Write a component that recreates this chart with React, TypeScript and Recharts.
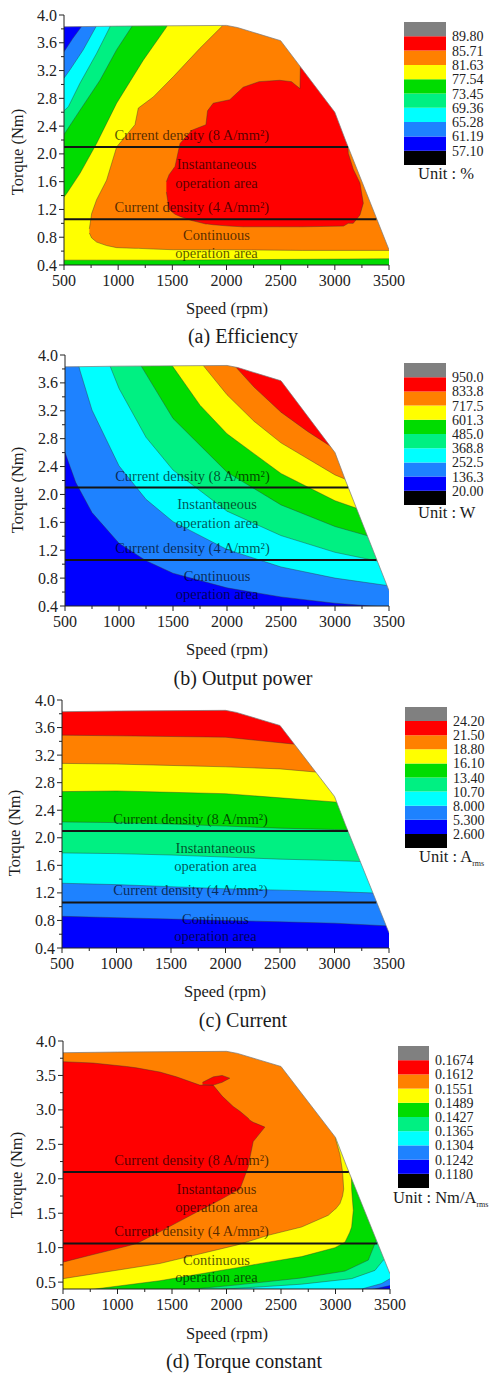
import React from "react";
import {
  Area,
  Bar,
  BarChart,
  ComposedChart,
  ReferenceDot,
  ReferenceLine,
  XAxis,
  YAxis,
} from "recharts";

const FONT = '"Liberation Serif", "Times New Roman", serif';

// colour scale, low -> high (same in all four maps)
const BLACK = "#000000";
const BLUE = "#0000ff";
const DODGER = "#1e82ff";
const CYAN = "#00ffff";
const SPRING = "#00f082";
const GREEN = "#00dc00";
const YELLOW = "#ffff00";
const ORANGE = "#ff8000";
const RED = "#ff0000";
const GRAY = "#808080";
const scaleColors = [BLACK, BLUE, DODGER, CYAN, SPRING, GREEN, YELLOW, ORANGE, RED, GRAY];

// axis ticks
const xTicks = [500, 750, 1000, 1250, 1500, 1750, 2000, 2250, 2500, 2750, 3000, 3250, 3500];
const xMajor = [500, 1000, 1500, 2000, 2500, 3000, 3500];
const yTicks = [0.4, 0.6, 0.8, 1.0, 1.2, 1.4, 1.6, 1.8, 2.0, 2.2, 2.4, 2.6, 2.8, 3.0, 3.2, 3.4, 3.6, 3.8, 4.0];
const yMajor = [0.4, 0.8, 1.2, 1.6, 2.0, 2.4, 2.8, 3.2, 3.6, 4.0];
const yTicksD = [0.5, 0.75, 1.0, 1.25, 1.5, 1.75, 2.0, 2.25, 2.5, 2.75, 3.0, 3.25, 3.5, 3.75, 4.0];
const yMajorD = [0.5, 1.0, 1.5, 2.0, 2.5, 3.0, 3.5, 4.0];

// legend labels
const effLegend = ["57.10", "61.19", "65.28", "69.36", "73.45", "77.54", "81.63", "85.71", "89.80"];
const powLegend = ["20.00", "136.3", "252.5", "368.8", "485.0", "601.3", "717.5", "833.8", "950.0"];
const curLegend = ["2.600", "5.300", "8.000", "10.70", "13.40", "16.10", "18.80", "21.50", "24.20"];
const tqLegend = ["0.1180", "0.1242", "0.1304", "0.1365", "0.1427", "0.1489", "0.1551", "0.1612", "0.1674"];

// operating envelope (upper torque limit vs speed)
const envSpeed = [500, 1000, 2000, 2100, 2500, 3000, 3100, 3500];
const envTorque = [3.83, 3.84, 3.85, 3.82, 3.63, 2.6, 2.19, 0.62];

// current density limits
const limitTorque = [2.1, 1.06];
const limitEndSpeed = [3122, 3383];

// notes inside the maps
const noteText = [
  "Current density (8 A/mm²)",
  "Instantaneous",
  "operation area",
  "Current density (4 A/mm²)",
  "Continuous",
  "operation area",
];
const noteSpeed = [1680, 1908, 1908, 1680, 1908, 1908];
const noteTorque = [2.27, 1.86, 1.59, 1.24, 0.83, 0.57];

const fullSpeed = [500, 3500];
const fullLow = [0.3, 0.3];

// (a) efficiency: regions above each level
const effDodgerSpeed = [500, 580, 660, 700, 3500];
const effDodgerTop = [3.47, 3.66, 3.83, 4.2, 4.2];
const effCyanSpeed = [500, 555, 678, 795, 840, 3500];
const effCyanTop = [3.09, 3.21, 3.5, 3.83, 4.2, 4.2];
const effSpringSpeed = [500, 540, 648, 802, 925, 970, 3500];
const effSpringTop = [2.62, 2.68, 3.02, 3.45, 3.83, 4.2, 4.2];
const effGreenSpeed = [500, 648, 832, 986, 1125, 1170, 3500];
const effGreenTop = [2.28, 2.63, 3.06, 3.5, 3.83, 4.2, 4.2];
const effYellowSpeed = [500, 525, 648, 801, 986, 1232, 1448, 1500, 3500];
const effYellowLow = [0.47, 0.47, 0.47, 0.47, 0.47, 0.47, 0.47, 0.47, 0.49];
const effYellowTop = [1.38, 1.43, 1.72, 2.15, 2.73, 3.35, 3.83, 4.2, 4.2];
const effOrangeSpeed = [734, 755, 801, 893, 986, 1155, 1186, 1324, 1508, 1754, 1960, 2000, 2700, 3500];
const effOrangeLow = [0.86, 0.79, 0.73, 0.68, 0.65, 0.64, 0.64, 0.63, 0.62, 0.62, 0.62, 0.62, 0.61, 0.61];
const effOrangeTop = [0.92, 1.14, 1.34, 1.62, 2.1, 2.42, 2.66, 2.82, 3.11, 3.52, 3.84, 4.2, 4.2, 4.2];
const effRedSpeed = [1445, 1470, 1525, 1571, 1680, 1810, 1825, 1877, 2030, 2154, 2300, 2490, 2600, 2678, 2694, 3080, 3124, 3170, 3232, 3263];
const effRedLow = [1.45, 1.2, 1.13, 1.1, 1.04, 0.99, 0.99, 0.98, 0.96, 0.95, 0.95, 0.95, 0.95, 0.95, 0.95, 0.96, 1.0, 1.0, 1.12, 1.29];
const effRedTop = [1.6, 1.7, 1.82, 2.15, 2.34, 2.42, 2.62, 2.73, 2.78, 2.96, 3.04, 3.06, 3.04, 2.94, 4.2, 4.2, 2.01, 1.78, 1.58, 1.29];

// (b) output power: lower edge of each level
const powDodgerSpeed = [500, 600, 750, 1000, 1250, 1500, 2000, 2500, 3000, 3500];
const powDodgerLow = [2.6, 2.17, 1.74, 1.3, 1.05, 0.87, 0.66, 0.53, 0.44, 0.38];
const powCyanSpeed = [600, 640, 750, 1000, 1250, 1500, 2000, 2500, 3000, 3500];
const powCyanLow = [4.0, 3.77, 3.21, 2.41, 1.93, 1.61, 1.21, 0.96, 0.8, 0.69];
const powSpringSpeed = [880, 920, 1000, 1250, 1500, 2000, 2500, 3000, 3500];
const powSpringLow = [4.0, 3.83, 3.52, 2.82, 2.35, 1.76, 1.41, 1.17, 1.01];
const powGreenSpeed = [1150, 1210, 1500, 2000, 2500, 3000, 3500];
const powGreenLow = [4.0, 3.83, 3.09, 2.32, 1.85, 1.54, 1.32];
const powYellowSpeed = [1430, 1500, 1750, 2000, 2500, 3000, 3500];
const powYellowLow = [4.0, 3.83, 3.28, 2.87, 2.3, 1.91, 1.64];
const powOrangeSpeed = [1710, 1790, 2000, 2250, 2500, 3000, 3500];
const powOrangeLow = [4.0, 3.83, 3.43, 3.05, 2.74, 2.28, 1.96];
const powRedSpeed = [2000, 2080, 2250, 2500, 2750, 3000, 3500];
const powRedLow = [4.0, 3.83, 3.54, 3.18, 2.9, 2.65, 2.28];

// (c) current: lower edge of each level
const curSpeed = [500, 1000, 1500, 2000, 2500, 3000, 3500];
const curDodgerLow = [0.86, 0.84, 0.82, 0.8, 0.78, 0.76, 0.72];
const curCyanLow = [1.34, 1.32, 1.29, 1.26, 1.24, 1.22, 1.19];
const curSpringLow = [1.78, 1.77, 1.75, 1.72, 1.69, 1.67, 1.64];
const curGreenLow = [2.23, 2.22, 2.2, 2.17, 2.14, 2.12, 2.1];
const curYellowLow = [2.67, 2.68, 2.66, 2.64, 2.58, 2.52, 2.45];
const curOrangeLow = [3.08, 3.07, 3.05, 3.03, 3.0, 2.93, 2.9];
const curRedLow = [3.49, 3.48, 3.47, 3.46, 3.38, 3.3, 3.2];

// (d) torque constant
const tqDodgerSpeed = [500, 3300, 3500];
const tqDodgerLow = [0.3, 0.38, 0.45];
const tqCyanSpeed = [500, 2842, 3240, 3423, 3500];
const tqCyanLow = [0.3, 0.38, 0.4, 0.48, 0.55];
const tqSpringSpeed = [500, 1900, 2400, 2689, 3148, 3362, 3439, 3500];
const tqSpringLow = [0.3, 0.39, 0.44, 0.47, 0.55, 0.67, 0.82, 0.9];
const tqGreenSpeed = [500, 1633, 2100, 2689, 3087, 3301, 3362, 3400, 3500];
const tqGreenLow = [0.3, 0.39, 0.46, 0.56, 0.66, 0.82, 1.06, 1.2, 1.4];
const tqYellowSpeed = [500, 745, 1388, 2100, 2383, 2689, 2995, 3087, 3130, 3148, 3163];
const tqYellowLow = [0.3, 0.39, 0.52, 0.71, 0.79, 0.87, 1.0, 1.08, 1.22, 1.3, 1.54];
const tqYellowTop = [4.2, 4.2, 4.2, 4.2, 4.2, 4.2, 4.2, 4.2, 4.2, 1.85, 1.54];
const tqOrangeSpeed = [500, 1388, 2100, 2383, 2689, 2934, 2990, 3000, 3041, 3065, 3075];
const tqOrangeLow = [0.55, 0.77, 1.04, 1.18, 1.3, 1.47, 1.55, 1.56, 1.64, 1.75, 1.85];
const tqOrangeTop = [4.2, 4.2, 4.2, 4.2, 4.2, 4.2, 4.2, 2.58, 2.35, 2.1, 1.85];
const tqRedSpeed = [500, 776, 1082, 1174, 1388, 1541, 1755, 1877, 1960, 2061, 2123, 2199, 2214, 2245, 2352];
const tqRedLow = [0.79, 0.9, 1.02, 1.06, 1.23, 1.36, 1.54, 1.64, 1.71, 1.8, 1.85, 2.17, 2.3, 2.54, 2.75];
const tqRedTop = [3.7, 3.68, 3.63, 3.61, 3.55, 3.48, 3.36, 3.36, 3.2, 3.05, 2.98, 2.88, 2.85, 2.82, 2.75];
const tqTongueSpeed = [1780, 1880, 1960, 2030];
const tqTongueLow = [3.37, 3.36, 3.4, 3.46];
const tqTongueTop = [3.4, 3.48, 3.5, 3.46];

type Pt = { s: number; r: [number, number] };
const OVER = 4.2; // above the plot, clipped away

const band = (s: number[], lo: number[], hi: number[]): Pt[] =>
  s.map((v, i) => ({ s: v, r: [lo[i], hi[i]] }));
const above = (s: number[], lo: number[]) => band(s, lo, s.map(() => OVER));
const below = (s: number[], hi: number[]) => band(s, s.map(() => 0.3), hi);

const maskData = band(envSpeed, envTorque, envSpeed.map(() => 4.3));

type Layer = { color: string; data: Pt[]; edge: boolean };

const effLayers: Layer[] = [
  { color: BLUE, data: above(fullSpeed, fullLow), edge: false },
  { color: DODGER, data: below(effDodgerSpeed, effDodgerTop), edge: true },
  { color: CYAN, data: below(effCyanSpeed, effCyanTop), edge: true },
  { color: SPRING, data: below(effSpringSpeed, effSpringTop), edge: true },
  { color: GREEN, data: below(effGreenSpeed, effGreenTop), edge: true },
  { color: YELLOW, data: band(effYellowSpeed, effYellowLow, effYellowTop), edge: true },
  { color: ORANGE, data: band(effOrangeSpeed, effOrangeLow, effOrangeTop), edge: true },
  { color: RED, data: band(effRedSpeed, effRedLow, effRedTop), edge: true },
];

const powLayers: Layer[] = [
  { color: BLUE, data: above(fullSpeed, fullLow), edge: false },
  { color: DODGER, data: above(powDodgerSpeed, powDodgerLow), edge: true },
  { color: CYAN, data: above(powCyanSpeed, powCyanLow), edge: true },
  { color: SPRING, data: above(powSpringSpeed, powSpringLow), edge: true },
  { color: GREEN, data: above(powGreenSpeed, powGreenLow), edge: true },
  { color: YELLOW, data: above(powYellowSpeed, powYellowLow), edge: true },
  { color: ORANGE, data: above(powOrangeSpeed, powOrangeLow), edge: true },
  { color: RED, data: above(powRedSpeed, powRedLow), edge: true },
];

const curLayers: Layer[] = [
  { color: BLUE, data: above(fullSpeed, fullLow), edge: false },
  { color: DODGER, data: above(curSpeed, curDodgerLow), edge: true },
  { color: CYAN, data: above(curSpeed, curCyanLow), edge: true },
  { color: SPRING, data: above(curSpeed, curSpringLow), edge: true },
  { color: GREEN, data: above(curSpeed, curGreenLow), edge: true },
  { color: YELLOW, data: above(curSpeed, curYellowLow), edge: true },
  { color: ORANGE, data: above(curSpeed, curOrangeLow), edge: true },
  { color: RED, data: above(curSpeed, curRedLow), edge: true },
];

const tqLayers: Layer[] = [
  { color: BLUE, data: above(fullSpeed, fullLow), edge: false },
  { color: DODGER, data: above(tqDodgerSpeed, tqDodgerLow), edge: true },
  { color: CYAN, data: above(tqCyanSpeed, tqCyanLow), edge: true },
  { color: SPRING, data: above(tqSpringSpeed, tqSpringLow), edge: true },
  { color: GREEN, data: above(tqGreenSpeed, tqGreenLow), edge: true },
  { color: YELLOW, data: band(tqYellowSpeed, tqYellowLow, tqYellowTop), edge: true },
  { color: ORANGE, data: band(tqOrangeSpeed, tqOrangeLow, tqOrangeTop), edge: true },
  { color: RED, data: band(tqRedSpeed, tqRedLow, tqRedTop), edge: true },
  { color: RED, data: band(tqTongueSpeed, tqTongueLow, tqTongueTop), edge: true },
];

const isIn = (list: number[], v: number) => list.some((m) => Math.abs(m - v) < 1e-6);

function XTick(props: any) {
  const { x, y, payload } = props;
  const v = payload.value as number;
  const major = isIn(xMajor, v);
  return (
    <g>
      <line x1={x} y1={y} x2={x} y2={y + (major ? 5 : 3)} stroke="#222" />
      {major && (
        <text x={x} y={y + 21} textAnchor="middle" fontSize={16} fontFamily={FONT} fill="#222">
          {v}
        </text>
      )}
    </g>
  );
}

function makeYTick(majors: number[]) {
  return (props: any) => {
    const { x, y, payload } = props;
    const v = payload.value as number;
    const major = isIn(majors, v);
    return (
      <g>
        <line x1={x} y1={y} x2={x - (major ? 5 : 3)} y2={y} stroke="#222" />
        {major && (
          <text x={x - 7} y={y} dy={5.5} textAnchor="end" fontSize={16} fontFamily={FONT} fill="#222">
            {v.toFixed(1)}
          </text>
        )}
      </g>
    );
  };
}

type PanelProps = {
  plotTop: number;
  plotBottom: number;
  plotLeft: number;
  plotRight: number;
  layers: Layer[];
  ticks: number[];
  majors: number[];
};

function ContourPanel({ plotTop, plotBottom, plotLeft, plotRight, layers, ticks, majors }: PanelProps) {
  const width = 425;
  const height = plotBottom - plotTop + 40;
  return (
    <div style={{ position: "absolute", left: 0, top: plotTop - 10 }}>
      <ComposedChart
        width={width}
        height={height}
        margin={{ top: 10, right: width - plotRight, bottom: 0, left: 0 }}
      >
        {layers.map((l, i) => (
          <Area
            key={i}
            data={l.data}
            dataKey="r"
            type="linear"
            fill={l.color}
            fillOpacity={1}
            stroke={l.edge ? "#333" : "none"}
            strokeWidth={0.5}
            strokeOpacity={0.8}
            dot={false}
            activeDot={false}
            isAnimationActive={false}
          />
        ))}
        <Area
          data={maskData}
          dataKey="r"
          type="linear"
          fill="#ffffff"
          fillOpacity={1}
          stroke="#777"
          strokeWidth={0.7}
          dot={false}
          activeDot={false}
          isAnimationActive={false}
        />
        {limitTorque.map((t, i) => (
          <ReferenceLine
            key={t}
            segment={[
              { x: 500, y: t },
              { x: limitEndSpeed[i], y: t },
            ]}
            stroke="#151515"
            strokeWidth={2}
          />
        ))}
        {noteText.map((txt, i) => (
          <ReferenceDot
            key={i}
            x={noteSpeed[i]}
            y={noteTorque[i]}
            r={0}
            fill="none"
            stroke="none"
            label={{
              value: txt,
              position: "center",
              fill: "#000",
              fillOpacity: 0.68,
              fontSize: 14.5,
              fontFamily: FONT,
            }}
          />
        ))}
        <XAxis
          type="number"
          dataKey="s"
          domain={[500, 3500]}
          allowDataOverflow
          ticks={xTicks}
          interval={0}
          tick={XTick}
          tickLine={false}
          tickSize={0}
          tickMargin={0}
          axisLine={{ stroke: "#222" }}
          height={30}
        />
        <YAxis
          type="number"
          domain={[0.4, 4.0]}
          allowDataOverflow
          ticks={ticks}
          interval={0}
          tick={makeYTick(majors)}
          tickLine={false}
          tickSize={0}
          tickMargin={0}
          axisLine={{ stroke: "#222" }}
          width={plotLeft}
        />
      </ComposedChart>
    </div>
  );
}

const legendTicks = [1, 2, 3, 4, 5, 6, 7, 8, 9];

function ColorBar({ left, top, barWidth, height, labels }: { left: number; top: number; barWidth: number; height: number; labels: string[] }) {
  const width = 492 - left;
  const row: Record<string, number | string> = { n: "scale" };
  scaleColors.forEach((_, i) => {
    row[`k${i}`] = 1;
  });
  const tick = (props: any) => (
    <text x={props.x + 6} y={props.y} dy={5} fontSize={14} fontFamily={FONT} fill="#222">
      {labels[(props.payload.value as number) - 1]}
    </text>
  );
  return (
    <div style={{ position: "absolute", left, top }}>
      <BarChart width={width} height={height} data={[row]} margin={{ top: 0, right: 0, bottom: 0, left: 0 }} barCategoryGap={0}>
        <XAxis dataKey="n" hide />
        <YAxis
          orientation="right"
          type="number"
          domain={[0, 10]}
          ticks={legendTicks}
          interval={0}
          width={width - barWidth}
          axisLine={false}
          tickLine={false}
          tickSize={0}
          tickMargin={0}
          tick={tick}
        />
        {scaleColors.map((c, i) => (
          <Bar key={c} dataKey={`k${i}`} stackId="s" fill={c} isAnimationActive={false} />
        ))}
      </BarChart>
    </div>
  );
}

function Txt({ x, y, size, children, rotate, anchor }: { x: number; y: number; size: number; children: React.ReactNode; rotate?: boolean; anchor?: "start" | "middle" }) {
  const shiftX = anchor === "start" ? "0" : "-50%";
  return (
    <div
      style={{
        position: "absolute",
        left: x,
        top: y,
        transform: `translate(${shiftX}, -50%)${rotate ? " rotate(-90deg)" : ""}`,
        transformOrigin: rotate ? "center" : undefined,
        fontSize: size,
        fontFamily: FONT,
        color: "#1a1a1a",
        whiteSpace: "nowrap",
        lineHeight: 1,
      }}
    >
      {children}
    </div>
  );
}

const Rms = () => <sub style={{ fontSize: 8, verticalAlign: "-4px" }}>rms</sub>;

export default function App() {
  return (
    <div style={{ position: "absolute", left: 0, top: 0, width: 493, height: 1376, background: "#fff", overflow: "hidden" }}>
      <ContourPanel plotTop={15} plotBottom={265} plotLeft={64} plotRight={389} layers={effLayers} ticks={yTicks} majors={yMajor} />
      <ContourPanel plotTop={355} plotBottom={606} plotLeft={65} plotRight={389} layers={powLayers} ticks={yTicks} majors={yMajor} />
      <ContourPanel plotTop={700} plotBottom={948} plotLeft={62} plotRight={389} layers={curLayers} ticks={yTicks} majors={yMajor} />
      <ContourPanel plotTop={1041} plotBottom={1289} plotLeft={63} plotRight={390} layers={tqLayers} ticks={yTicksD} majors={yMajorD} />

      <ColorBar left={404} top={22} barWidth={42} height={143} labels={effLegend} />
      <ColorBar left={404} top={363} barWidth={42} height={142} labels={powLegend} />
      <ColorBar left={405} top={707} barWidth={42} height={141} labels={curLegend} />
      <ColorBar left={398} top={1046} barWidth={31} height={142} labels={tqLegend} />

      <Txt x={418} y={174} size={16.5} anchor="start">Unit : %</Txt>
      <Txt x={418} y={513} size={16.5} anchor="start">Unit : W</Txt>
      <Txt x={419} y={858} size={16.5} anchor="start">Unit : A<Rms /></Txt>
      <Txt x={393} y={1199} size={16.5} anchor="start">Unit : Nm/A<Rms /></Txt>

      <Txt x={227} y={309} size={16.5}>Speed (rpm)</Txt>
      <Txt x={227} y={650} size={16.5}>Speed (rpm)</Txt>
      <Txt x={225} y={992} size={16.5}>Speed (rpm)</Txt>
      <Txt x={227} y={1334} size={16.5}>Speed (rpm)</Txt>

      <Txt x={18} y={152} size={16.5} rotate>Torque (Nm)</Txt>
      <Txt x={18} y={490} size={16.5} rotate>Torque (Nm)</Txt>
      <Txt x={15} y={833} size={16.5} rotate>Torque (Nm)</Txt>
      <Txt x={17} y={1175} size={16.5} rotate>Torque (Nm)</Txt>

      <Txt x={243} y={336} size={20}>(a) Efficiency</Txt>
      <Txt x={243} y={678} size={20}>(b) Output power</Txt>
      <Txt x={243} y={1020} size={20}>(c) Current</Txt>
      <Txt x={244} y={1361} size={20}>(d) Torque constant</Txt>
    </div>
  );
}
